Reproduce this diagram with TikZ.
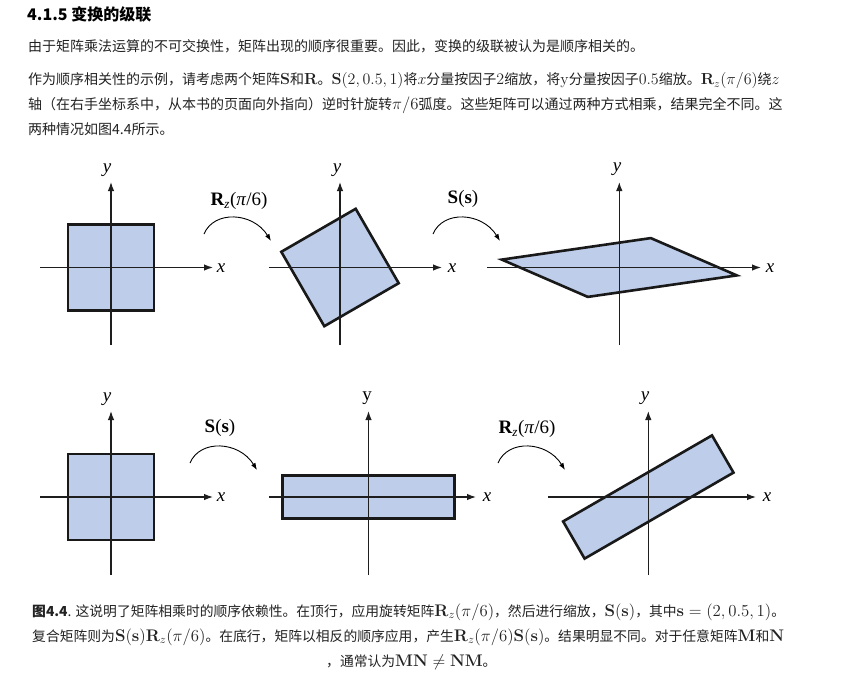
\RequirePackage{fix-cm}
\documentclass[tikz,border=0pt]{standalone}
\usepackage[no-math]{fontspec}
\usepackage{amsmath}
\newfontfamily\cjk{Noto Sans CJK SC}
\newfontfamily\tms{Liberation Serif}
\usetikzlibrary{arrows.meta}
\definecolor{shapefill}{HTML}{BDCDEA}
\definecolor{txt}{HTML}{222222}
\definecolor{axc}{HTML}{1E1E1E}
\tikzset{
  txtline/.style={anchor=base west, inner sep=0pt, text=txt, font=\fontsize{14}{16}\selectfont\cjk},
  titleline/.style={anchor=base west, inner sep=0pt, text=black, font=\fontsize{16}{18}\selectfont\cjk\bfseries},
  capline/.style={anchor=base west, inner sep=0pt, text=txt, font=\fontsize{13.8}{16}\selectfont\cjk},
  axis/.style={draw=axc, line width=1.2pt, -{Latex[length=9pt,width=6.5pt]}},
  shp/.style={fill=shapefill, draw=black!90, line width=2.6pt},
  arcarrow/.style={draw=black, line width=0.9pt, -{Latex[length=7pt,width=5pt]}},
  axlabel/.style={inner sep=0pt, font=\fontsize{19}{20}\selectfont\tms\itshape},
  oplabel/.style={inner sep=0pt, font=\fontsize{19}{20}\selectfont\tms}
}
\newcommand{\mth}[1]{{\fontsize{16.8}{18}\selectfont$#1$}}
\newcommand{\mths}[1]{{\fontsize{16}{18}\selectfont$#1$}}
\newcommand{\RzLbl}{\textbf{R}\textsubscript{\textit{z}}(\textit{π}/6)}
\newcommand{\SsLbl}{\textbf{S}(\textbf{s})}
\begin{document}
\begin{tikzpicture}[x=1pt,y=-1pt]
\useasboundingbox[fill=white] (0,0) rectangle (845,674);

% ---------- text above ----------
\node[titleline] (title) at (27,21) {4.1.5 变换的级联};
\node[txtline] (p1) at (28,52) {由于矩阵乘法运算的不可交换性，矩阵出现的顺序很重要。因此，变换的级联被认为是顺序相关的。};
\node[txtline] (p2a) at (28,85) {作为顺序相关性的示例，请考虑两个矩阵\mths{\mathbf{S}}和\mths{\mathbf{R}}。\mths{\mathbf{S}(2,0.5,1)}将\mths{x}分量按因子\mths{2}缩放，将\mths{\mathrm{y}}分量按因子\mths{0.5}缩放。\mths{\mathbf{R}_z(\pi/6)}绕\mths{z}};
\node[txtline] (p2b) at (28,110) {轴（在右手坐标系中，从本书的页面向外指向）逆时针旋转\mth{\pi/6}弧度。这些矩阵可以通过两种方式相乘，结果完全不同。这};
\node[txtline] (p2c) at (28,134) {两种情况如图4.4所示。};

% ---------- top row ----------
% panel 1
\filldraw[shp] (68,224.5) rectangle (154,310.5);
\coordinate (ax1l) at (40,267.5); \coordinate (ax1r) at (213,267.5);
\coordinate (ay1b) at (111,345); \coordinate (ay1t) at (111,182);
\draw[axis] (ax1l) -- (ax1r);
\draw[axis] (ay1b) -- (ay1t);
\node[axlabel] (lx1) at (221,268) {x};
\node[axlabel] (ly1) at (107,170) {y};

% arc 1
\coordinate (a1s) at (204,234); \coordinate (a1e) at (271,241);
\draw[arcarrow] (a1s) .. controls (214,210) and (253,212) .. (a1e);
\node[oplabel] (op1) at (239,201) {\RzLbl};

% panel 2
\filldraw[shp] (355.7,208.8) -- (281.3,251.8) -- (324.3,326.2) -- (398.7,283.2) -- cycle;
\coordinate (ax2l) at (269,267.5); \coordinate (ax2r) at (442,267.5);
\coordinate (ay2b) at (340,345); \coordinate (ay2t) at (340,182);
\draw[axis] (ax2l) -- (ax2r);
\draw[axis] (ay2b) -- (ay2t);
\node[axlabel] (lx2) at (452,268) {x};
\node[axlabel] (ly2) at (337,170) {y};

% arc 2
\coordinate (a2s) at (433,234); \coordinate (a2e) at (500,241);
\draw[arcarrow] (a2s) .. controls (443,210) and (482,212) .. (a2e);
\node[oplabel] (op2) at (463,199) {\SsLbl};

% panel 3
\filldraw[shp] (650.8,238.1) -- (501.8,259.6) -- (587.8,296.9) -- (736.8,275.4) -- cycle;
\coordinate (ax3l) at (487,267.5); \coordinate (ax3r) at (761,267.5);
\coordinate (ay3b) at (619.3,345); \coordinate (ay3t) at (619.3,182);
\draw[axis] (ax3l) -- (ax3r);
\draw[axis] (ay3b) -- (ay3t);
\node[axlabel] (lx3) at (770,268) {x};
\node[axlabel] (ly3) at (617,169) {y};

% ---------- bottom row ----------
% panel 4
\filldraw[shp] (68,454) rectangle (154,540);
\coordinate (ax4l) at (40,497); \coordinate (ax4r) at (213,497);
\coordinate (ay4b) at (111,575); \coordinate (ay4t) at (111,411);
\draw[axis] (ax4l) -- (ax4r);
\draw[axis] (ay4b) -- (ay4t);
\node[axlabel] (lx4) at (221,497.5) {x};
\node[axlabel] (ly4) at (107,399) {y};

% arc 3
\coordinate (a3s) at (190,463); \coordinate (a3e) at (257,470);
\draw[arcarrow] (a3s) .. controls (200,439) and (239,441) .. (a3e);
\node[oplabel] (op3) at (220,428) {\SsLbl};

% panel 5
\filldraw[shp] (282.5,475.5) rectangle (454.5,518.5);
\coordinate (ax5l) at (269,497); \coordinate (ax5r) at (476,497);
\coordinate (ay5b) at (368.5,575); \coordinate (ay5t) at (368.5,411);
\draw[axis] (ax5l) -- (ax5r);
\draw[axis] (ay5b) -- (ay5t);
\node[axlabel] (lx5) at (487,497.5) {x};
\node[oplabel] (ly5) at (367,398) {y};

% arc 4
\coordinate (a4s) at (498,463); \coordinate (a4e) at (565,470);
\draw[arcarrow] (a4s) .. controls (508,439) and (547,441) .. (a4e);
\node[oplabel] (op4) at (527,429) {\RzLbl};

% panel 6
\filldraw[shp] (712,435.4) -- (733.5,472.6) -- (584.6,558.6) -- (563.1,521.4) -- cycle;
\coordinate (ax6l) at (548,497); \coordinate (ax6r) at (756,497);
\coordinate (ay6b) at (648.3,575); \coordinate (ay6t) at (648.3,411);
\draw[axis] (ax6l) -- (ax6r);
\draw[axis] (ay6b) -- (ay6t);
\node[axlabel] (lx6) at (767,497.5) {x};
\node[axlabel] (ly6) at (645,398) {y};

% ---------- caption ----------
\node[capline] (c1) at (32,616) {{\bfseries 图4.4}. 这说明了矩阵相乘时的顺序依赖性。在顶行，应用旋转矩阵\mth{\mathbf{R}_z(\pi/6)}，然后进行缩放，\mth{\mathbf{S}(\mathbf{s})}，其中\mth{\mathbf{s}=(2,0.5,1)}。};
\node[capline] (c2) at (32,641) {复合矩阵则为\mth{\mathbf{S}(\mathbf{s})\mathbf{R}_z(\pi/6)}。在底行，矩阵以相反的顺序应用，产生\mth{\mathbf{R}_z(\pi/6)\mathbf{S}(\mathbf{s})}。结果明显不同。对于任意矩阵\mth{\mathbf{M}}和\mth{\mathbf{N}}};
\node[capline] (c3) at (326,666) {，通常认为\mth{\mathbf{MN}\neq\mathbf{NM}}。};
\end{tikzpicture}
\end{document}
